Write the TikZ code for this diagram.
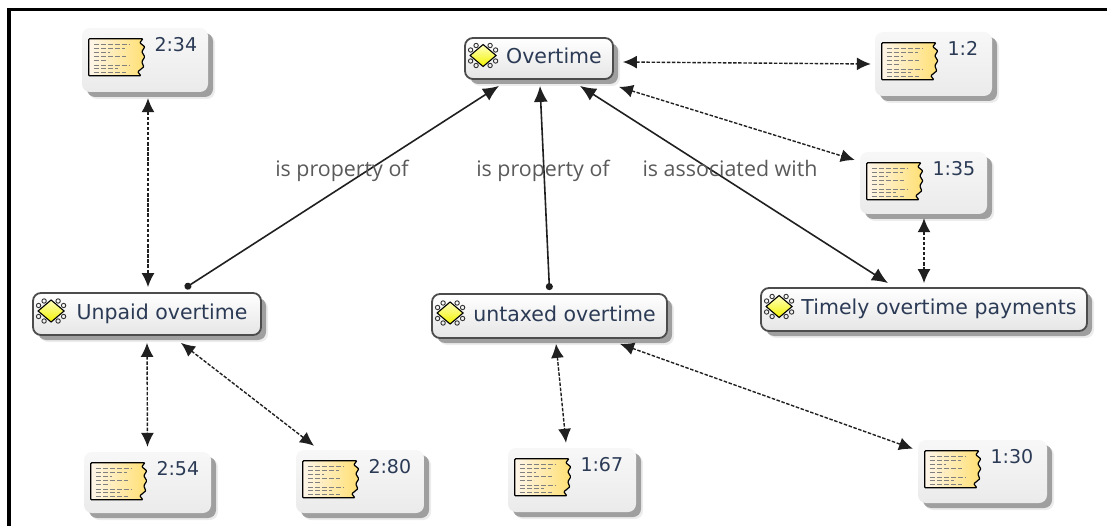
\documentclass[tikz,border=0pt]{standalone}
\usepackage{fontspec}
\setmainfont{DejaVu Sans}
\newfontfamily\linkfont{Open Sans}
\usetikzlibrary{arrows.meta,shadows}
\definecolor{nodetext}{HTML}{2B3A55}
\definecolor{linktext}{HTML}{5A5A5A}
\definecolor{linkline}{HTML}{202020}
\tikzset{
	paperline/.style={line width=3.5pt, color=black},
	boxshadow/.style={
		drop shadow={shadow xshift=7pt, shadow yshift=-7pt, fill=black!15},
		drop shadow={shadow xshift=5pt, shadow yshift=-5pt, fill=black!68}
	},
	codebox/.style={draw=black!70, line width=1.8pt, rounded corners=8pt, top color=white, bottom color=black!10, boxshadow, text=nodetext, font=\fontsize{20.5}{24}\selectfont, inner sep=0pt, text height=14pt, text depth=4pt},
	quotebox/.style={rounded corners=8pt, top color=black!3, bottom color=black!8, boxshadow, inner sep=0pt},
	reftext/.style={text=nodetext, font=\fontsize{19}{22}\selectfont, inner sep=0pt, anchor=west},
	linktag/.style={text=linktext, font=\linkfont\fontsize{21.4}{25}\selectfont, inner sep=0pt},
	dashlink/.style={linkline, line width=1.4pt, dash pattern=on 3.5pt off 1.6pt, {Latex[length=14pt,width=13pt]}-{Latex[length=14pt,width=13pt]}},
	duallink/.style={linkline, line width=1.6pt, {Latex[length=16pt,width=14pt]}-{Latex[length=16pt,width=14pt]}},
	proplink/.style={linkline, line width=1.6pt, {Circle[length=7pt]}-{Latex[length=16pt,width=14pt]}},
	codeicon/.pic={
		\foreach \sx in {-1,1} {
			\foreach \sy in {-1,1} {
				\draw[line width=0.9pt, color=black!80] (\sx*7,\sy*10) circle (2.2pt);
				\draw[line width=0.9pt, color=black!80] (\sx*12.5,\sy*5.5) circle (2.2pt);
			}
		}
		\draw[line width=1.1pt, color=black, top color=yellow!25, bottom color=yellow!95!black] (-13,0) -- (0,-11) -- (13,0) -- (0,11) -- cycle;
	},
	quoteicon/.pic={
		\draw[line width=1.2pt, color=black, left color=yellow!12!orange!8!white, right color=orange!45!yellow!55!white, rounded corners=0.8pt] (0,0) -- (54,0) -- (51,4) -- (56,8) -- (53,13) -- (56,18) -- (53,23) -- (55,28) -- (49,33) -- (52,37) -- (0,37) -- cycle;
		\foreach \row/\len in {6/36,10/31,14/16,18/32,22/14,26.5/36,30/24,34/32} {
			\draw[line width=1pt, color=black!50, dash pattern=on 5pt off 2pt] (5,\row) -- (5+\len,\row);
		}
	}
}
\def\codenode(#1)(#2,#3)(#4,#5)#6{
	\node[codebox, minimum width=#4pt, minimum height=#5pt] (#1) at (#2,#3) {\hspace*{30pt}#6};
	\pic at ([shift={(19,-3)}]#1.west) {codeicon};
}
\def\quotenode(#1)(#2,#3)(#4,#5)#6{
	\node[quotebox, minimum width=#4pt, minimum height=#5pt] (#1) at (#2,#3) {};
	\pic at ([shift={(7,11)}]#1.north west) {quoteicon};
	\node[reftext] (#1ref) at ([shift={(72.5,16.5)}]#1.north west) {#6};
}

\begin{document}
\begin{tikzpicture}[x=1pt, y=-1pt]
		%%%%% START %%%%%
		\useasboundingbox (0, 0) rectangle (1107, 526);
		
		\coordinate (paperbottom) at (9, 526);
		\coordinate (papercorner) at (9, 9.5);
		\coordinate (paperright) at (1107, 9.5);
		\draw[paperline] (paperbottom) -- (papercorner) -- (paperright);
		
		\codenode(overtime)(539, 58.5)(148, 41){Overtime}
		\codenode(unpaid)(147, 314)(228, 42){Unpaid overtime}
		\codenode(untaxed)(549.5, 316)(235, 44){untaxed overtime}
		\codenode(timely)(924, 309.5)(326, 43){Timely overtime payments}
		
		\quotenode(qa)(145, 60)(126, 64){2:34}
		\quotenode(qb)(933.5, 64)(117, 64){1:2}
		\quotenode(qc)(923.5, 183)(127, 62){1:35}
		\quotenode(qd)(147.5, 482.5)(127, 61){2:54}
		\quotenode(qe)(360, 481.5)(128, 63){2:80}
		\quotenode(qf)(572, 480)(128, 64){1:67}
		\quotenode(qg)(982.5, 471.5)(129, 63){1:30}
		
		\draw[proplink] ([shift={(38,-4)}]unpaid.north) -- ([shift={(-40,6)}]overtime.south);
		\draw[proplink] ([shift={(0,-3)}]untaxed.north) -- ([shift={(1,6)}]overtime.south);
		\draw[duallink] ([shift={(-36,-4)}]timely.north) -- ([shift={(41,6)}]overtime.south);
		
		\draw[dashlink] ([shift={(3,6)}]qa.south) -- ([shift={(1,-5)}]unpaid.north);
		\draw[dashlink] ([shift={(9,3.5)}]overtime.east) -- ([shift={(-4,0)}]qb.west);
		\draw[dashlink] ([shift={(80,7)}]overtime.south) -- ([shift={(-5,-23)}]qc.west);
		\draw[dashlink] ([shift={(0.5,4)}]qc.south) -- ([shift={(0,-4)}]timely.north);
		\draw[dashlink] ([shift={(0,7)}]unpaid.south) -- ([shift={(0,-5)}]qd.north);
		\draw[dashlink] ([shift={(34,7)}]unpaid.south) -- ([shift={(-46,-4)}]qe.north);
		\draw[dashlink] ([shift={(6.5,5)}]untaxed.south) -- ([shift={(-6,-5)}]qf.north);
		\draw[dashlink] ([shift={(70.5,5)}]untaxed.south) -- ([shift={(-69.5,9)}]qg.north);
		
		\node[linktag] (tagunpaid) at (342, 171) {is property of};
		\node[linktag] (taguntaxed) at (543, 171) {is property of};
		\node[linktag] (tagtimely) at (730, 168) {is associated with};
		
		%%%%% END %%%%%
	\end{tikzpicture}
\end{document}
